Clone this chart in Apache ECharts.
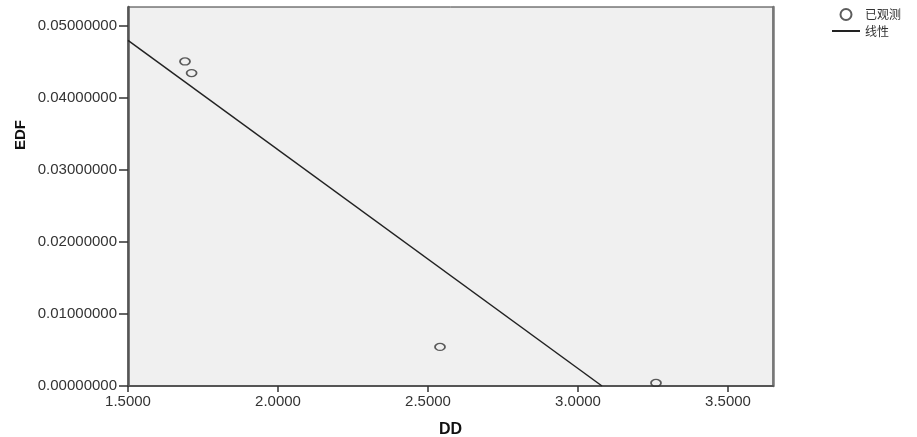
<!DOCTYPE html>
<html>
<head>
<meta charset="utf-8">
<script src="https://cdn.jsdelivr.net/npm/echarts@6/dist/echarts.min.js"></script>
<style>
    html, body { margin: 0; padding: 0; background: #fff; }
    #chart { width: 917px; height: 437px; }
</style>
</head>
<body>
<div id="chart"></div>
<script>
// observed points (DD, EDF)
const observed = [
    [1.690, 0.04504],
    [1.712, 0.04343],
    [2.540, 0.00542],
    [3.260, 0.00042]
];
// linear fit, drawn from the left edge down to y = 0
const fitLine = [
    [1.5, 0.04796],
    [3.08, 0.0]
];
const xTicks = [1.5, 2.0, 2.5, 3.0, 3.5];
const yTicks = [0, 0.01, 0.02, 0.03, 0.04, 0.05];

const chart = echarts.init(document.getElementById('chart'));
const font = 'Liberation Sans, Arial, sans-serif';

const options = {
    backgroundColor: '#fff',
    animation: false,
    textStyle: { fontFamily: font },
    grid: {
        left: 128,
        right: 144,
        top: 7,
        bottom: 51,
        outerBoundsMode: 'none',
        show: true,
        backgroundColor: '#f0f0f0',
        borderColor: '#333',
        borderWidth: 1
    },
    legend: {
        orient: 'vertical',
        left: 826,
        top: 3,
        padding: 5,
        itemWidth: 28,
        itemHeight: 11,
        itemGap: 4,
        textStyle: { fontSize: 12, color: '#333', fontFamily: 'Noto Sans CJK SC' },
        data: [
            { name: '已观测' },
            { name: '线性', itemStyle: { opacity: 0 } }
        ]
    },
    xAxis: {
        type: 'value',
        min: 1.5,
        max: 3.65,
        interval: 0.5,
        name: 'DD',
        nameLocation: 'middle',
        nameGap: 36,
        nameTextStyle: { fontSize: 16, fontWeight: 'bold', color: '#111' },
        axisLine: { onZero: false, lineStyle: { color: '#555', width: 2 } },
        axisTick: { show: true, length: 6, lineStyle: { color: '#333', width: 1.5 }, customValues: xTicks },
        axisLabel: {
            fontSize: 15,
            color: '#333',
            margin: 8,
            customValues: xTicks,
            formatter: v => v.toFixed(4)
        },
        splitLine: { show: false }
    },
    yAxis: [
        {
            type: 'value',
            min: 0,
            max: 0.0526,
            interval: 0.01,
            axisLine: { onZero: false, lineStyle: { color: '#555', width: 2.5 } },
            axisTick: { show: true, length: 9, lineStyle: { color: '#333', width: 1.5 }, customValues: yTicks },
            axisLabel: {
                fontSize: 15,
                color: '#333',
                margin: 11,
                customValues: yTicks,
                formatter: v => v.toFixed(8)
            },
            splitLine: { show: false }
        },
        {
            // right-hand frame edge only
            type: 'value',
            position: 'right',
            min: 0,
            max: 0.0526,
            axisLine: { show: true, onZero: false, lineStyle: { color: '#777', width: 2.5 } },
            axisTick: { show: false },
            axisLabel: { show: false },
            splitLine: { show: false }
        }
    ],
    graphic: [
        {
            type: 'text',
            left: 13,
            top: 120,
            rotation: Math.PI / 2,
            style: {
                text: 'EDF',
                fontSize: 15,
                fontWeight: 'bold',
                fill: '#111',
                fontFamily: font
            }
        }
    ],
    series: [
        {
            name: '已观测',
            type: 'scatter',
            symbol: 'circle',
            symbolSize: [10, 7],
            itemStyle: {
                color: 'rgba(0,0,0,0)',
                borderColor: '#333',
                borderWidth: 1.5
            },
            data: observed,
            z: 3
        },
        {
            name: '线性',
            type: 'line',
            symbol: 'none',
            lineStyle: { color: '#222', width: 1.5 },
            itemStyle: { color: '#222' },
            data: fitLine,
            z: 2
        }
    ]
};

chart.setOption(options);
</script>
</body>
</html>
